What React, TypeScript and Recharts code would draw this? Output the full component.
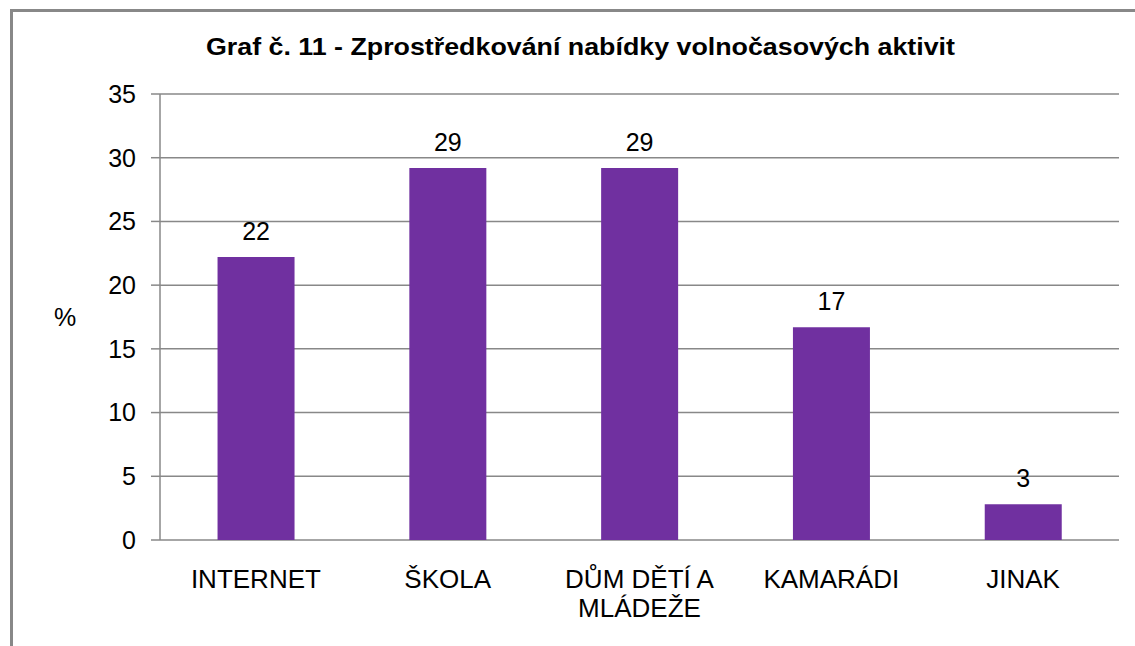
import React from 'react';
import { BarChart, Bar, XAxis, YAxis, CartesianGrid, LabelList } from 'recharts';

const categories = ['INTERNET', 'ŠKOLA', 'DŮM DĚTÍ A\nMLÁDEŽE', 'KAMARÁDI', 'JINAK'];
const values = [22.2, 29.2, 29.2, 16.7, 2.8];
const valueLabels = ['22', '29', '29', '17', '3'];
const yTicks = [0, 5, 10, 15, 20, 25, 30, 35];
const boundaryTicks = [0, 1, 2, 3, 4, 5];
const title = 'Graf č. 11 - Zprostředkování nabídky volnočasových aktivit';

const data = categories.map((c, i) => ({ name: c, value: values[i], label: valueLabels[i] }));

const FONT = '"Liberation Sans", Arial, sans-serif';

const CategoryTick = (props: any) => {
  const { x, y, payload } = props;
  const lines = String(payload.value).split('\n');
  return (
    <g>
      {lines.map((l, i) => (
        <text key={i} x={x} y={y + 48 + i * 29} textAnchor="middle" fontFamily={FONT} fontSize={26} fill="#000">
          {l}
        </text>
      ))}
    </g>
  );
};

export default function App() {
  return (
    <div style={{ position: 'absolute', left: 0, top: 0, width: 1135, height: 646, overflow: 'hidden', background: '#fff' }}>
      <div style={{ position: 'absolute', left: 10, top: 9, width: 1200, height: 700, borderLeft: '3px solid #888', borderTop: '3px solid #888' }} />
      <div style={{ position: 'absolute', left: 0, width: 1160, top: 36, textAlign: 'center', fontFamily: FONT, fontWeight: 'bold', fontSize: 23, lineHeight: '23px', color: '#000', whiteSpace: 'nowrap' }}>
        <span style={{ display: 'inline-block', transform: 'scaleX(1.165)', transformOrigin: 'center' }}>{title}</span>
      </div>
      <div style={{ position: 'absolute', left: 0, top: 0 }}>
        <BarChart width={1135} height={646} data={data} margin={{ top: 94, right: 16, left: 0, bottom: 46 }} barCategoryGap="30%">
          <CartesianGrid vertical={false} stroke="#888" strokeWidth={1.5} />
          <XAxis xAxisId="cat" dataKey="name" axisLine={false} tickLine={false} tickSize={0} tickMargin={0} height={60} tick={<CategoryTick />} interval={0} />
          <XAxis xAxisId="bnd" type="number" domain={[0, 5]} ticks={boundaryTicks} allowDataOverflow height={0} axisLine={{ stroke: '#888', strokeWidth: 2 }} tickLine={{ stroke: '#888', strokeWidth: 1.5 }} tickSize={7} tick={() => <g />} />
          <YAxis domain={[0, 35]} ticks={yTicks} width={160} axisLine={{ stroke: '#888', strokeWidth: 1.5 }} tickLine={{ stroke: '#888', strokeWidth: 1.5 }} tickSize={9} tickMargin={15} tick={{ fontFamily: FONT, fontSize: 25, fill: '#000' }} interval={0}
            label={{ value: '%', position: 'insideLeft', dx: 49, dy: 0, fontFamily: FONT, fontSize: 25, fill: '#000' }} />
          <Bar xAxisId="cat" dataKey="value" fill="#7030A0" isAnimationActive={false}>
            <LabelList dataKey="label" position="top" offset={17} fontFamily={FONT} fontSize={25} fill="#000" />
          </Bar>
        </BarChart>
      </div>
    </div>
  );
}
